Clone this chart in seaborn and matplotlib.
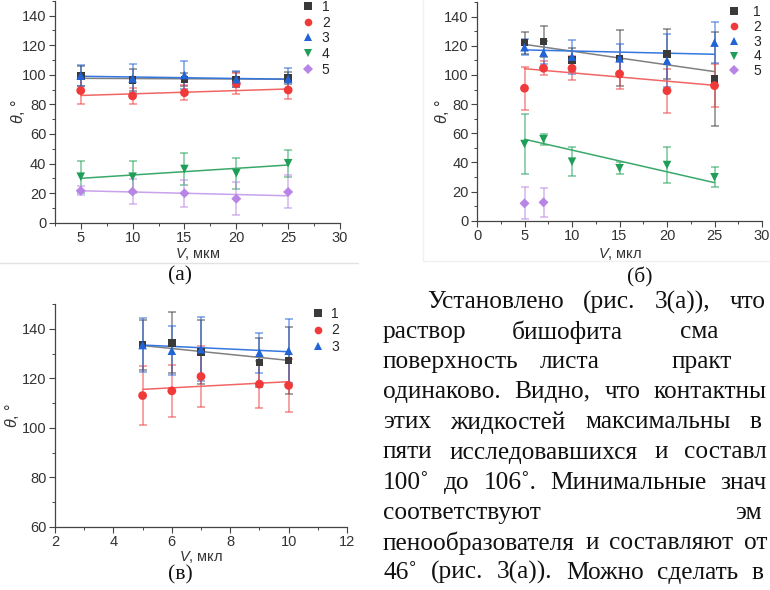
import matplotlib
matplotlib.use("Agg")
import matplotlib.pyplot as plt
from matplotlib.lines import Line2D
from matplotlib.ticker import MultipleLocator, AutoMinorLocator
import pandas as pd
import seaborn as sns

# ---- panel (а): V, мкм ----
a_x = [5, 10, 15, 20, 25]
a_y1 = [99.1, 96.4, 96.9, 96.9, 97.8]
a_e1 = [6.5, 7.5, 4.5, 5.0, 4.0]
a_y2 = [89.3, 85.7, 87.9, 94.0, 89.7]
a_e2 = [8.8, 5.2, 4.9, 7.0, 6.0]
a_y3 = [99.4, 97.5, 99.8, 97.0, 97.2]
a_e3 = [7.0, 9.5, 9.5, 5.5, 7.5]
a_y4 = [31.1, 31.1, 36.3, 33.4, 40.2]
a_e4 = [10.8, 10.9, 11.0, 10.6, 9.2]
a_y5 = [21.6, 21.0, 19.9, 16.2, 20.8]
a_e5 = [3.2, 8.4, 9.0, 11.2, 11.2]
# linear fit, value at first and last x
a_f1 = [97.6, 97.0]
a_f2 = [86.0, 90.4]
a_f3 = [99.0, 97.0]
a_f4 = [30.0, 39.0]
a_f5 = [21.6, 18.2]

# ---- panel (б): V, мкл ----
b_x = [5, 7, 10, 15, 20, 25]
b_y1 = [122.2, 122.9, 110.3, 111.4, 114.2, 97.3]
b_e1 = [7.5, 10.7, 8.0, 19.2, 17.1, 32.0]
b_y2 = [90.9, 104.6, 104.6, 100.7, 89.2, 92.7]
b_e2 = [14.8, 4.9, 8.2, 10.0, 15.0, 14.9]
b_y3 = [119.0, 115.3, 112.6, 111.4, 109.8, 122.2]
b_e3 = [5.4, 8.0, 11.6, 10.0, 18.3, 14.3]
b_y4 = [52.6, 55.9, 40.5, 36.0, 38.2, 29.8]
b_e4 = [20.3, 3.9, 9.8, 4.0, 12.6, 6.9]
b_x5 = [5, 7]
b_y5 = [11.9, 12.6]
b_e5 = [11.0, 10.0]
b_f1 = [121.0, 102.3]
b_f2 = [104.3, 92.9]
b_f3 = [117.2, 114.2]
b_f4 = [55.9, 26.1]

# ---- panel (в): V, мкл ----
c_x = [5, 6, 7, 9, 10]
c_y1 = [133.5, 134.4, 130.8, 126.4, 127.3]
c_e1 = [10.0, 12.3, 13.0, 10.0, 13.6]
c_y2 = [113.1, 115.0, 120.8, 117.7, 117.2]
c_e2 = [11.9, 10.6, 12.2, 9.5, 10.8]
c_y3 = [133.5, 131.2, 131.8, 130.4, 131.2]
c_e3 = [10.8, 9.9, 13.0, 8.0, 13.0]
c_f1 = [133.3, 127.3]
c_f2 = [115.6, 118.7]
c_f3 = [133.5, 130.8]

labels = ["1", "2", "3", "4", "5"]
markers = ["s", "o", "^", "v", "D"]
colors = ["#3a3a3a", "#f03a3a", "#2263d6", "#1f9e57", "#b884e6"]
fit_colors = ["#808080", "#f26565", "#3477e0", "#3aa86a", "#c8a2ec"]
msizes = [30, 40, 38, 38, 26]

text_lines = [
    "Установлено (рис. 3(а)), что",
    "раствор бишофита сма",
    "поверхность листа практ",
    "одинаково. Видно, что контактны",
    "этих жидкостей максимальны в",
    "пяти исследовавшихся и составл",
    "100˚ до 106˚. Минимальные знач",
    "соответствуют эм",
    "пенообразователя и составляют от",
    "46˚ (рис. 3(а)). Можно сделать в",
]

sns.set_theme(style="ticks")
plt.rcParams["font.family"] = ["Liberation Sans", "DejaVu Sans"]
plt.rcParams["mathtext.fontset"] = "custom"
plt.rcParams["mathtext.it"] = "Liberation Sans:italic"
plt.rcParams["mathtext.rm"] = "Liberation Sans"

W, H = 770, 590
fig = plt.figure(figsize=(W / 100, H / 100), dpi=100)
fig.patch.set_facecolor("white")


def px_rect(left, bottom, right, top):
    return [left / W, 1 - bottom / H, (right - left) / W, (bottom - top) / H]


def draw(ax, series, fits, xlab):
    frames = []
    for i, (x, y, e) in enumerate(series):
        ax.errorbar(x, y, yerr=e, fmt="none", ecolor=colors[i], alpha=0.6,
                    elinewidth=1.1, capsize=3.2, capthick=1.1, zorder=2)
        frames.append(pd.DataFrame({"V": x, "theta": y, "s": labels[i]}))
    for i, f in enumerate(fits):
        x = series[i][0]
        sns.lineplot(x=[x[0], x[-1]], y=f, ax=ax, color=fit_colors[i],
                     lw=1.1, zorder=3)
    df = pd.concat(frames, ignore_index=True)
    n = len(series)
    for i in range(n):
        sub = df[df["s"] == labels[i]]
        sns.scatterplot(data=sub, x="V", y="theta", ax=ax, marker=markers[i],
                        color=colors[i], s=msizes[i], edgecolor="none",
                        legend=False, zorder=4)
    sns.despine(ax=ax)
    for sp in ("left", "bottom"):
        ax.spines[sp].set_color("#444444")
        ax.spines[sp].set_linewidth(0.9)
    ax.tick_params(which="major", direction="out", length=4, width=0.8,
                   color="#444444", labelsize=10.5, labelcolor="#333333", pad=2)
    ax.tick_params(which="minor", direction="out", length=2.5, width=0.7,
                   color="#444444")
    ax.xaxis.set_minor_locator(AutoMinorLocator(2))
    ax.yaxis.set_minor_locator(AutoMinorLocator(2))
    ax.set_xlabel(r"$V$, " + xlab, fontsize=10.5, color="#333333")
    ax.set_ylabel(r"$\theta$, °", fontsize=11.5, color="#333333")
    ax.set_facecolor("white")
    handles = [Line2D([], [], ls="none", marker=markers[i], color=colors[i],
                      markersize=5.5 if i != 4 else 5, markeredgewidth=0)
               for i in range(n)]
    return handles


# (а)
ax_a = fig.add_axes(px_rect(54.8, 222.7, 340, 0.8))
h = draw(ax_a, [(a_x, a_y1, a_e1), (a_x, a_y2, a_e2), (a_x, a_y3, a_e3),
                (a_x, a_y4, a_e4), (a_x, a_y5, a_e5)],
         [a_f1, a_f2, a_f3, a_f4, a_f5], "мкм")
ax_a.set_xlim(2.5, 30)
ax_a.set_ylim(0, 150)
ax_a.xaxis.set_major_locator(MultipleLocator(5))
ax_a.set_yticks(range(0, 141, 20))
ax_a.xaxis.set_label_coords(0.5, -23.5 / 222)
ax_a.yaxis.set_label_coords(-(54.8 - 27) / 285, 0.5)
ax_a.legend(handles=h, labels=labels, loc="upper left", frameon=False,
            bbox_to_anchor=(301 / W, 1.0), bbox_transform=fig.transFigure,
            fontsize=10, labelspacing=0.12, handlelength=1.0,
            handletextpad=0.5, borderpad=0, borderaxespad=0)

# (б)
ax_b = fig.add_axes(px_rect(477, 220.7, 762, 2.1))
h = draw(ax_b, [(b_x, b_y1, b_e1), (b_x, b_y2, b_e2), (b_x, b_y3, b_e3),
                (b_x, b_y4, b_e4), (b_x5, b_y5, b_e5)],
         [b_f1, b_f2, b_f3, b_f4], "мкл")
ax_b.set_xlim(0, 30)
ax_b.set_ylim(0, 150)
ax_b.xaxis.set_major_locator(MultipleLocator(5))
ax_b.set_yticks(range(0, 141, 20))
ax_b.xaxis.set_label_coords(0.5, -25 / 218)
ax_b.yaxis.set_label_coords(-(477 - 451) / 285, 0.5)
ax_b.legend(handles=h, labels=labels, loc="upper left", frameon=False,
            bbox_to_anchor=(727 / W, 1 - 5 / H), bbox_transform=fig.transFigure,
            fontsize=10, labelspacing=0.06, handlelength=1.0,
            handletextpad=0.9, borderpad=0, borderaxespad=0)

# (в)
ax_c = fig.add_axes(px_rect(55, 527, 347, 304.2))
h = draw(ax_c, [(c_x, c_y1, c_e1), (c_x, c_y2, c_e2), (c_x, c_y3, c_e3)],
         [c_f1, c_f2, c_f3], "мкл")
ax_c.set_xlim(2, 12)
ax_c.set_ylim(60, 150)
ax_c.xaxis.set_major_locator(MultipleLocator(2))
ax_c.set_yticks(range(60, 141, 20))
ax_c.xaxis.set_label_coords(0.5, -22 / 223)
ax_c.yaxis.set_label_coords(-(55 - 21) / 292, 0.5)
ax_c.legend(handles=h, labels=labels[:3], loc="upper left", frameon=False,
            bbox_to_anchor=(311 / W, 1 - 307 / H), bbox_transform=fig.transFigure,
            fontsize=10, labelspacing=0.18, handlelength=1.0,
            handletextpad=0.45, borderpad=0, borderaxespad=0)

# faint picture borders of the page
edge = "#e2e2e2"
fig.add_artist(Line2D([0, 358 / W], [1 - 263 / H] * 2, color=edge, lw=1,
                      transform=fig.transFigure))
fig.add_artist(Line2D([423 / W, 423 / W], [1, 1 - 261 / H], color="#f0f0f0",
                      lw=1, transform=fig.transFigure))
fig.add_artist(Line2D([423 / W, 1], [1 - 261 / H] * 2, color="#f0f0f0", lw=1,
                      transform=fig.transFigure))

# captions
serif = ["Liberation Serif", "DejaVu Serif"]
for s, x, y in [("(a)", 180, 276), ("(б)", 640, 277), ("(в)", 180, 575)]:
    fig.text(x / W, 1 - y / H, s, family=serif, fontsize=15.5, ha="center",
             va="center", color="#111111")

# body text: justified lines, words spread between a start and an end point
renderer = fig.canvas.get_renderer()
line_ends = [766, None, None, 767, 762, 767, 767, None, 767, 764]
fixed_x = {1: [383, 512, 680], 2: [383, 540, 672], 7: [383, 735]}
for i, line in enumerate(text_lines):
    y = 1 - (302 + 30.1 * i) / H
    x0 = 427 if i == 0 else 383
    words = line.split(" ")
    arts = [fig.text(0, y, w, family=serif, fontsize=18.3, va="center",
                     color="#111111") for w in words]
    if i in fixed_x:
        for a, x in zip(arts, fixed_x[i]):
            a.set_x(x / W)
        continue
    widths = [a.get_window_extent(renderer).width for a in arts]
    gap = (line_ends[i] - x0 - sum(widths)) / max(len(words) - 1, 1)
    x = x0
    for a, w in zip(arts, widths):
        a.set_x(x / W)
        x += w + gap

fig.savefig("out.png", dpi=100, facecolor="white")
